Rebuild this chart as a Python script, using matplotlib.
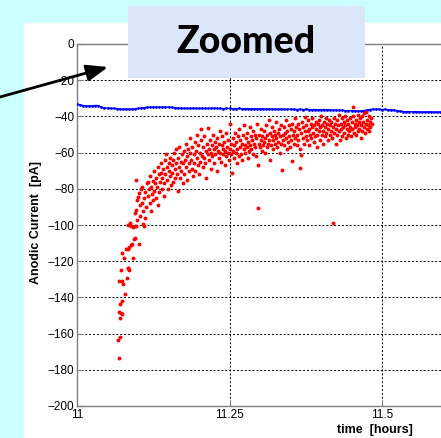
import numpy as np
import matplotlib
matplotlib.use("Agg")
import matplotlib.pyplot as plt
from matplotlib.patches import Rectangle, FancyArrowPatch

# ---------------- data ----------------
blue_start = 11.0
blue_step = 0.005
blue_current = [
    -33.2, -33.6, -34.0, -34.2, -34.3, -34.1, -34.0, -34.0,
    -35.0, -35.3, -35.4, -35.5, -35.6, -35.7,
    -35.9, -36.0, -36.0, -36.0, -35.9, -35.8, -35.6, -35.4, -35.2, -35.0,
    -34.9, -34.9, -34.8, -34.9, -34.9, -34.8, -34.9, -35.0, -35.2, -35.3,
    -35.5, -35.5, -35.6, -35.6, -35.5, -35.6, -35.6, -35.5, -35.6, -35.6,
    -35.6, -35.5, -35.6, -35.6, -35.7, -35.6, -35.6, -35.7, -35.7, -35.6,
    -35.7, -35.8, -35.7, -35.8, -35.8, -35.9, -35.8, -35.9, -36.0, -35.9,
    -36.0, -36.0, -36.1, -36.0, -36.1, -36.1, -36.0, -36.1, -36.2, -36.1,
    -36.2, -36.1, -36.2, -36.3, -36.2, -36.3, -36.3, -36.2, -36.3, -36.4,
    -36.5, -36.6, -36.7, -36.6, -36.8, -36.9, -36.8, -37.0, -37.1, -37.0,
    -36.8, -36.5, -36.2, -36.0, -36.1,
    -36.1, -36.2, -36.1, -36.3, -36.4, -36.6, -36.8, -37.1, -37.3, -37.4,
    -37.4, -37.5, -37.4, -37.5, -37.5, -37.6, -37.5, -37.5, -37.6, -37.6, -37.6,
]
blue_time = blue_start + blue_step * np.arange(len(blue_current))

red_tail = [
    (11.069, -173.5), (11.067, -163.5), (11.070, -162), (11.069, -148), (11.072, -148.5),
    (11.074, -149), (11.070, -151.5), (11.071, -143.5), (11.074, -142), (11.079, -138),
    (11.069, -131), (11.073, -131), (11.076, -132.5), (11.082, -129.5), (11.072, -125),
    (11.083, -123.5), (11.084, -124), (11.085, -125), (11.073, -115.6), (11.077, -118),
    (11.080, -113), (11.083, -113.4), (11.085, -112.3), (11.088, -111), (11.090, -110.5),
    (11.093, -108), (11.095, -107), (11.092, -118.5), (11.101, -110.3), (11.083, -100),
    (11.087, -99), (11.089, -100.5), (11.092, -101), (11.095, -100.6), (11.097, -100.8),
    (11.110, -100.5),
]

red_cloud = [
    (11.095, -93.5), (11.097, -91.7), (11.098, -86), (11.100, -84.3), (11.102, -82.4), (11.096, -75), (11.099, -97), (11.103, -95), (11.104, -89),
    (11.105, -80.3), (11.107, -78.8), (11.106, -88), (11.108, -92), (11.110, -85), (11.111, -96), (11.112, -82), (11.113, -90), (11.114, -77), (11.109, -99.5),
    (11.116, -76), (11.117, -84), (11.118, -80), (11.119, -88), (11.120, -73), (11.121, -79), (11.122, -92), (11.123, -83), (11.124, -86), (11.125, -75.5),
    (11.126, -70), (11.127, -81), (11.128, -77), (11.129, -85), (11.130, -74), (11.131, -79), (11.132, -68), (11.133, -89), (11.134, -72), (11.135, -82),
    (11.136, -76), (11.137, -66), (11.138, -71), (11.139, -80), (11.140, -74), (11.141, -69), (11.142, -84), (11.143, -77), (11.144, -64), (11.145, -72),
    (11.146, -61), (11.147, -75), (11.148, -68), (11.149, -80), (11.150, -70), (11.151, -66), (11.152, -73), (11.153, -63), (11.154, -78), (11.155, -67),
    (11.156, -71), (11.157, -64), (11.158, -76), (11.159, -60), (11.160, -69), (11.161, -74), (11.162, -66), (11.163, -58), (11.164, -72), (11.165, -81),
    (11.166, -63), (11.167, -68), (11.168, -57), (11.169, -74), (11.170, -65), (11.171, -70), (11.172, -61), (11.173, -77), (11.174, -66), (11.175, -59),
    (11.176, -72), (11.177, -64), (11.178, -55), (11.179, -68), (11.180, -62), (11.181, -75), (11.182, -58), (11.183, -66), (11.184, -70), (11.185, -60),
    (11.186, -52), (11.187, -64), (11.188, -69), (11.189, -57), (11.190, -73), (11.191, -61), (11.192, -66), (11.193, -54), (11.194, -70), (11.195, -59),
    (11.196, -63), (11.197, -50), (11.198, -67), (11.199, -56), (11.200, -72), (11.201, -60), (11.202, -65), (11.203, -53), (11.204, -47), (11.205, -62),
    (11.206, -68), (11.207, -57), (11.208, -63), (11.209, -51), (11.210, -66), (11.211, -59), (11.212, -74), (11.213, -55), (11.214, -61), (11.215, -46.5),
    (11.216, -64), (11.217, -58), (11.218, -53), (11.219, -69), (11.220, -60), (11.221, -56), (11.222, -62), (11.223, -50), (11.224, -66), (11.225, -58),
    (11.226, -54), (11.227, -61), (11.228, -57), (11.229, -70), (11.230, -52), (11.231, -59), (11.232, -63), (11.233, -55), (11.234, -48), (11.235, -60),
    (11.236, -65), (11.237, -56), (11.238, -51), (11.239, -61), (11.240, -58), (11.241, -54), (11.242, -67), (11.243, -59), (11.244, -49), (11.245, -62),
    (11.246, -57), (11.247, -60), (11.248, -53), (11.249, -64), (11.250, -58), (11.251, -44), (11.252, -61), (11.253, -55), (11.254, -71), (11.255, -59),
    (11.256, -52), (11.257, -63), (11.258, -56), (11.259, -49), (11.260, -60), (11.261, -54), (11.262, -66), (11.263, -58), (11.264, -51), (11.265, -62),
    (11.266, -47), (11.267, -57), (11.268, -53), (11.269, -61), (11.270, -55), (11.271, -64), (11.272, -50), (11.273, -58), (11.274, -45), (11.275, -56),
    (11.276, -60), (11.277, -52), (11.278, -57), (11.279, -49), (11.280, -63), (11.281, -54), (11.282, -59), (11.283, -46), (11.284, -56), (11.285, -51),
    (11.286, -58), (11.287, -53), (11.288, -61), (11.289, -48), (11.290, -55), (11.291, -50), (11.292, -57), (11.293, -62), (11.294, -52), (11.295, -44),
    (11.296, -90.8), (11.297, -66.9), (11.298, -55), (11.299, -50), (11.300, -57), (11.301, -47), (11.302, -53), (11.303, -59), (11.304, -51), (11.305, -56),
    (11.306, -48), (11.307, -54), (11.308, -60), (11.309, -52), (11.310, -45), (11.311, -57), (11.312, -50), (11.313, -55), (11.314, -42), (11.315, -53),
    (11.316, -64), (11.317, -49), (11.318, -56), (11.319, -51), (11.320, -46), (11.321, -58), (11.322, -53), (11.323, -48), (11.324, -55), (11.325, -50),
    (11.326, -43), (11.327, -52), (11.328, -57), (11.329, -49), (11.330, -54), (11.331, -47), (11.332, -60), (11.333, -51), (11.334, -45), (11.335, -55),
    (11.336, -69.6), (11.337, -50), (11.338, -53), (11.339, -46), (11.340, -56), (11.341, -49), (11.342, -52), (11.343, -42), (11.344, -58), (11.345, -48),
    (11.346, -54), (11.347, -45), (11.348, -51), (11.349, -57), (11.350, -47), (11.351, -53), (11.352, -64.5), (11.353, -44), (11.354, -50), (11.355, -55),
    (11.356, -48), (11.357, -41), (11.358, -52), (11.359, -46), (11.360, -56), (11.361, -50), (11.362, -44), (11.363, -53), (11.364, -47), (11.365, -58),
    (11.366, -68.3), (11.367, -61.3), (11.368, -49), (11.369, -43), (11.370, -52), (11.371, -46), (11.372, -55), (11.373, -48), (11.374, -40.5), (11.375, -51),
    (11.376, -45), (11.377, -53), (11.378, -48), (11.379, -42), (11.380, -56), (11.381, -47), (11.382, -50), (11.383, -44), (11.384, -52), (11.385, -46),
    (11.386, -41), (11.387, -49), (11.388, -54), (11.389, -45), (11.390, -51), (11.391, -43), (11.392, -47), (11.393, -57), (11.394, -50), (11.395, -44),
    (11.396, -48), (11.397, -42), (11.398, -53), (11.399, -46), (11.400, -40), (11.401, -50), (11.402, -45), (11.403, -55), (11.404, -48), (11.405, -43),
    (11.406, -51), (11.407, -46), (11.408, -41), (11.409, -49), (11.410, -44), (11.411, -53), (11.412, -47), (11.413, -42), (11.414, -50), (11.415, -45),
    (11.416, -48), (11.417, -43), (11.418, -52), (11.419, -46), (11.420, -98.7), (11.421, -41), (11.422, -49), (11.423, -44), (11.424, -55), (11.425, -47),
    (11.426, -42), (11.427, -50), (11.428, -45), (11.429, -39.5), (11.430, -48), (11.431, -53), (11.432, -44), (11.433, -47), (11.434, -41), (11.435, -51),
    (11.436, -46), (11.437, -43), (11.438, -49), (11.439, -40), (11.440, -45), (11.441, -52), (11.442, -47), (11.443, -42), (11.444, -50), (11.445, -44),
    (11.446, -48), (11.447, -41), (11.448, -46), (11.449, -51), (11.450, -43), (11.451, -47), (11.452, -40), (11.453, -34.6), (11.454, -49), (11.455, -44),
    (11.456, -46), (11.457, -42), (11.458, -50), (11.459, -45), (11.460, -39), (11.461, -48), (11.462, -43), (11.463, -47), (11.464, -41), (11.465, -52),
    (11.466, -45), (11.467, -40), (11.468, -48), (11.469, -43), (11.470, -46), (11.471, -38), (11.472, -49), (11.473, -44), (11.474, -37.7), (11.475, -47),
    (11.476, -42), (11.477, -45), (11.478, -40), (11.479, -48), (11.480, -43), (11.481, -46), (11.482, -41), (11.483, -44),
]

x_ticks = [11, 11.25, 11.5]
x_tick_labels = ["11", "11.25", "11.5"]
y_ticks = [0, -20, -40, -60, -80, -100, -120, -140, -160, -180, -200]

# ---------------- figure ----------------
W, H = 441, 438
fig = plt.figure(figsize=(W / 100, H / 100), dpi=100)
fig.patch.set_facecolor("#CCFFFF")

# white panel
panel = Rectangle((24 / W, 0), 1 - 24 / W, (H - 23) / H, transform=fig.transFigure,
                  facecolor="white", edgecolor="none")
panel.set_zorder(-10)
fig.add_artist(panel)

ax = fig.add_axes([77 / W, 32 / H, 366 / W, 362 / H])
ax.set_zorder(1)
ax.set_facecolor("white")

red = red_tail + red_cloud
rt = [p[0] for p in red]
rv = [p[1] for p in red]

ax.plot(blue_time, blue_current, color="#0000FF", lw=1.0, marker="o", ms=2.0,
        markeredgewidth=0, zorder=3)
ax.plot(rt, rv, linestyle="none", color="#FF0000", marker="o", ms=2.8,
        markeredgewidth=0, zorder=3)

ax.set_xlim(11, 11.6)
ax.set_ylim(-200, 0)
ax.set_xticks(x_ticks)
ax.set_xticklabels(x_tick_labels)
ax.set_yticks(y_ticks)
ax.grid(True, color="black", linestyle=(0, (2, 2)), linewidth=0.7)
ax.set_axisbelow(True)
for s in ax.spines.values():
    s.set_color("#7f7f7f")
    s.set_linewidth(1.0)
ax.tick_params(direction="in", length=4, color="#7f7f7f", labelsize=8.5, pad=2)
for lab in ax.get_xticklabels() + ax.get_yticklabels():
    lab.set_fontfamily("Liberation Sans")

fig.text(36 / W, 1 - 222 / H, "Anodic Current  [pA]", rotation=90, ha="center",
         va="center", fontsize=9, fontweight="bold", family="Liberation Sans", zorder=5)
fig.text(375 / W, 1 - 430 / H, "time  [hours]", ha="center", va="center",
         fontsize=9, fontweight="bold", family="Liberation Sans", zorder=5)

# Zoomed box
box = Rectangle((128 / W, 1 - 78 / H), 237 / W, 72 / H,
                transform=fig.transFigure, facecolor="#DCE6FA", edgecolor="none")
box.set_zorder(5)
fig.add_artist(box)
fig.text(246 / W, 1 - 42 / H, "Zoomed", ha="center", va="center", fontsize=27,
         fontweight="black", family="Lato", zorder=6)

# Arrow
arr = FancyArrowPatch((0 / W, 1 - 97 / H), (108 / W, 1 - 67 / H),
                      transform=fig.transFigure,
                      arrowstyle="-|>,head_length=13,head_width=5",
                      color="black", lw=2.0, mutation_scale=1, shrinkA=0, shrinkB=0)
arr.set_zorder(6)
fig.add_artist(arr)

fig.savefig("out.png", dpi=100, facecolor=fig.get_facecolor())
